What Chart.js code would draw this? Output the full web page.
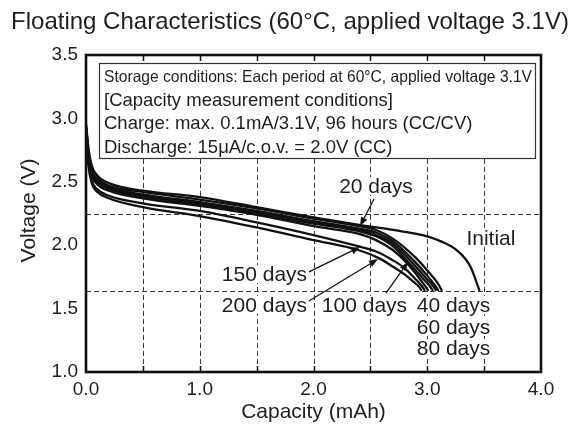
<!DOCTYPE html>
<html>
<head>
<meta charset="utf-8">
<script src="https://cdn.jsdelivr.net/npm/chart.js@4.4.1/dist/chart.umd.min.js"></script>
<style>
html,body{margin:0;padding:0;background:#fff;}
#wrap{width:581px;height:430px;position:relative;}
</style>
</head>
<body>
<div id="wrap"><canvas id="c"></canvas></div>
<script>
// Floating characteristics — discharge curves after storage at 60°C / 3.1V

Chart.defaults.font.family = "'Liberation Sans', Arial, sans-serif";
Chart.defaults.color = '#1e1e1e';

// ── data (capacity mAh / voltage V) ──
const capInit = [0, 0.02, 0.05, 0.1, 0.2, 0.5, 1.0, 1.5, 2.0, 2.4, 2.7, 3.0, 3.12, 3.26, 3.38, 3.46];
const vInit   = [2.96, 2.78, 2.63, 2.55, 2.49, 2.43, 2.38, 2.30, 2.22, 2.16, 2.12, 2.07, 2.03, 1.96, 1.83, 1.64];

const cap20 = [0, 0.02, 0.05, 0.1, 0.2, 0.5, 1.0, 1.5, 2.0, 2.4, 2.55, 2.7, 2.9, 3.02, 3.1, 3.13];
const v20   = [2.94, 2.75, 2.60, 2.53, 2.47, 2.42, 2.36, 2.29, 2.21, 2.15, 2.12, 2.05, 1.90, 1.78, 1.69, 1.64];

const cap40 = [0, 0.02, 0.05, 0.1, 0.2, 0.5, 1.0, 1.5, 2.0, 2.4, 2.55, 2.7, 2.88, 3.0, 3.07, 3.10];
const v40   = [2.93, 2.73, 2.58, 2.51, 2.46, 2.40, 2.34, 2.27, 2.19, 2.13, 2.10, 2.03, 1.88, 1.76, 1.68, 1.64];

const cap60 = [0, 0.02, 0.05, 0.1, 0.2, 0.5, 1.0, 1.5, 2.0, 2.4, 2.55, 2.7, 2.86, 2.98, 3.05, 3.08];
const v60   = [2.92, 2.72, 2.57, 2.50, 2.45, 2.39, 2.33, 2.26, 2.18, 2.12, 2.08, 2.01, 1.87, 1.75, 1.68, 1.64];

const cap80 = [0, 0.02, 0.05, 0.1, 0.2, 0.5, 1.0, 1.5, 2.0, 2.4, 2.55, 2.7, 2.84, 2.96, 3.02, 3.05];
const v80   = [2.92, 2.71, 2.56, 2.49, 2.44, 2.38, 2.32, 2.25, 2.17, 2.11, 2.07, 1.99, 1.86, 1.74, 1.68, 1.64];

const cap100 = [0, 0.02, 0.05, 0.1, 0.2, 0.5, 1.0, 1.5, 2.0, 2.4, 2.55, 2.7, 2.82, 2.93, 2.98, 3.01];
const v100   = [2.91, 2.70, 2.55, 2.48, 2.43, 2.37, 2.31, 2.24, 2.15, 2.09, 2.04, 1.96, 1.86, 1.74, 1.68, 1.64];

const cap150 = [0, 0.02, 0.05, 0.1, 0.2, 0.5, 1.0, 1.5, 2.0, 2.4, 2.55, 2.7, 2.8, 2.9, 2.95, 2.98];
const v150   = [2.90, 2.66, 2.51, 2.44, 2.39, 2.33, 2.27, 2.18, 2.08, 1.99, 1.95, 1.88, 1.82, 1.73, 1.68, 1.64];

const cap200 = [0, 0.02, 0.05, 0.1, 0.2, 0.5, 1.0, 1.5, 2.0, 2.4, 2.57, 2.7, 2.8, 2.88, 2.93, 2.95];
const v200   = [2.89, 2.64, 2.49, 2.42, 2.37, 2.30, 2.23, 2.14, 2.04, 1.96, 1.90, 1.83, 1.77, 1.71, 1.67, 1.64];

const gridCap  = [0.5, 1.0, 1.5, 2.0, 2.5, 3.0, 3.5];
const gridVolt = [2.25, 1.64];

const boxLines = [
    'Storage conditions: Each period at 60°C, applied voltage 3.1V',
    '[Capacity measurement conditions]',
    'Charge: max. 0.1mA/3.1V, 96 hours (CC/CV)',
    'Discharge: 15μA/c.o.v. = 2.0V (CC)'
];

// label centres and arrows, in data coordinates
const notes = [
    {text:'20 days',  x:2.549, y:2.467},
    {text:'Initial',  x:3.560, y:2.057},
    {text:'150 days', x:1.569, y:1.773},
    {text:'200 days', x:1.569, y:1.528},
    {text:'100 days', x:2.448, y:1.528},
    {text:'40 days',  x:3.231, y:1.528},
    {text:'60 days',  x:3.231, y:1.355},
    {text:'80 days',  x:3.231, y:1.189}
];
const arrows = [
    {from:[2.532, 2.364], to:[2.409, 2.151]},
    {from:[1.960, 1.789], to:[2.409, 1.986]},
    {from:[1.960, 1.560], to:[2.567, 1.891]},
    {from:[2.637, 1.623], to:[2.831, 1.868]}
];

const series = [
    ['Initial', capInit, vInit], ['20 days', cap20, v20], ['40 days', cap40, v40],
    ['60 days', cap60, v60], ['80 days', cap80, v80], ['100 days', cap100, v100],
    ['150 days', cap150, v150], ['200 days', cap200, v200]
];

const FONT = "'Liberation Sans', Arial, sans-serif";
const INK = '#1e1e1e';

function arrow(ctx, x1, y1, x2, y2) {
    const ang = Math.atan2(y2 - y1, x2 - x1), L = 9, W = 3.5;
    const bx = x2 - L * Math.cos(ang), by = y2 - L * Math.sin(ang);
    ctx.beginPath(); ctx.moveTo(x1, y1); ctx.lineTo(bx, by); ctx.stroke();
    ctx.beginPath();
    ctx.moveTo(x2, y2);
    ctx.lineTo(bx + W * Math.sin(ang), by - W * Math.cos(ang));
    ctx.lineTo(bx - W * Math.sin(ang), by + W * Math.cos(ang));
    ctx.closePath(); ctx.fill();
}

const decor = {
    id:'decor',
    beforeDatasetsDraw(chart) {
        const {ctx, chartArea:a, scales:{x, y}} = chart;
        ctx.save();
        ctx.strokeStyle = '#3a3a3a'; ctx.lineWidth = 1; ctx.setLineDash([5, 3]);
        gridCap.forEach(v => {
            const px = Math.round(x.getPixelForValue(v)) + .5;
            ctx.beginPath(); ctx.moveTo(px, a.top); ctx.lineTo(px, a.bottom); ctx.stroke();
        });
        gridVolt.forEach(v => {
            const py = Math.round(y.getPixelForValue(v)) + .5;
            ctx.beginPath(); ctx.moveTo(a.left, py); ctx.lineTo(a.right, py); ctx.stroke();
        });
        ctx.restore();
    },
    afterDatasetsDraw(chart) {
        const {ctx, chartArea:a, scales:{x, y}} = chart;
        ctx.save();

        // curve labels on white
        ctx.font = '21px ' + FONT; ctx.textAlign = 'center'; ctx.textBaseline = 'middle';
        notes.forEach(n => {
            const px = x.getPixelForValue(n.x), py = y.getPixelForValue(n.y);
            const w = ctx.measureText(n.text).width;
            ctx.fillStyle = '#fff'; ctx.fillRect(px - w / 2 - 1, py - 9, w + 2, 18);
            ctx.fillStyle = INK; ctx.fillText(n.text, px, py + 1);
        });
        ctx.strokeStyle = '#111'; ctx.fillStyle = '#111'; ctx.lineWidth = 1.3;
        arrows.forEach(r => arrow(ctx,
            x.getPixelForValue(r.from[0]), y.getPixelForValue(r.from[1]),
            x.getPixelForValue(r.to[0]), y.getPixelForValue(r.to[1])));

        // conditions box
        const bl = a.left + 13, bt = a.top + 8, br = a.right - 6, bb = a.top + 103;
        ctx.fillStyle = '#fff'; ctx.fillRect(bl, bt, br - bl, bb - bt);
        ctx.strokeStyle = '#333'; ctx.lineWidth = 1.2; ctx.strokeRect(bl + .5, bt + .5, br - bl, bb - bt);
        ctx.fillStyle = INK; ctx.textAlign = 'left'; ctx.textBaseline = 'middle';
        boxLines.forEach((t, i) => {
            const ty = bt + 14 + i * 23.5;
            if (i === 0) {
                ctx.font = '16.5px ' + FONT;
                const w = ctx.measureText(t).width, target = br - bl - 8;
                const s = Math.min(1, target / w);
                ctx.save(); ctx.translate(bl + 5, ty); ctx.scale(s, 1); ctx.fillText(t, 0, 0); ctx.restore();
            } else {
                ctx.font = '18.5px ' + FONT;
                ctx.fillText(t, bl + 5, ty);
            }
        });

        // frame and inner ticks
        ctx.strokeStyle = '#111'; ctx.lineWidth = 1.5;
        gridCap.forEach(v => {
            const px = Math.round(x.getPixelForValue(v)) + .5;
            ctx.beginPath(); ctx.moveTo(px, a.top); ctx.lineTo(px, a.top + 6); ctx.stroke();
            ctx.beginPath(); ctx.moveTo(px, a.bottom); ctx.lineTo(px, a.bottom - 6); ctx.stroke();
        });
        ctx.lineWidth = 2.6;
        ctx.strokeRect(a.left, a.top, a.right - a.left, a.bottom - a.top);
        ctx.restore();
    },
    afterDraw(chart) {
        const {ctx, chartArea:a} = chart;
        ctx.save();
        ctx.fillStyle = INK; ctx.textAlign = 'center'; ctx.textBaseline = 'middle';
        ctx.font = '24px ' + FONT;
        ctx.fillText('Floating Characteristics (60°C, applied voltage 3.1V)', 290, 22);
        ctx.font = '21px ' + FONT;
        ctx.fillText('Capacity (mAh)', (a.left + a.right) / 2, a.bottom + 40);
        ctx.translate(29, (a.top + a.bottom) / 2 - 3);
        ctx.rotate(-Math.PI / 2);
        ctx.fillText('Voltage (V)', 0, 0);
        ctx.restore();
    }
};

new Chart(document.getElementById('c'), {
    type:'line',
    data:{
        datasets: series.map(([name, cap, v]) => ({
            label:name,
            data:cap.map((c, i) => ({x:c, y:v[i]})),
            borderColor:'#111', borderWidth:2.3, pointRadius:0,
            cubicInterpolationMode:'monotone', fill:false
        }))
    },
    options:{
        responsive:true, maintainAspectRatio:false, animation:false, events:[],
        layout:{padding:{left:0, right:40, top:55, bottom:0}},
        plugins:{legend:{display:false}, tooltip:{enabled:false}, title:{display:false}},
        scales:{
            x:{
                type:'linear', min:0, max:4,
                grid:{display:false, drawTicks:false}, border:{display:false},
                ticks:{stepSize:1, padding:6, color:INK, font:{size:19}, maxRotation:0, autoSkip:false,
                       callback:v => v.toFixed(1)},
                afterFit(s) { s.height = 58; }
            },
            y:{
                min:1, max:3.5,
                grid:{display:false, drawTicks:false}, border:{display:false},
                ticks:{stepSize:0.5, padding:8, color:INK, font:{size:19}, autoSkip:false,
                       callback:v => v.toFixed(1)},
                afterFit(s) { s.width = 86; }
            }
        }
    },
    plugins:[decor]
});
</script>
</body>
</html>
